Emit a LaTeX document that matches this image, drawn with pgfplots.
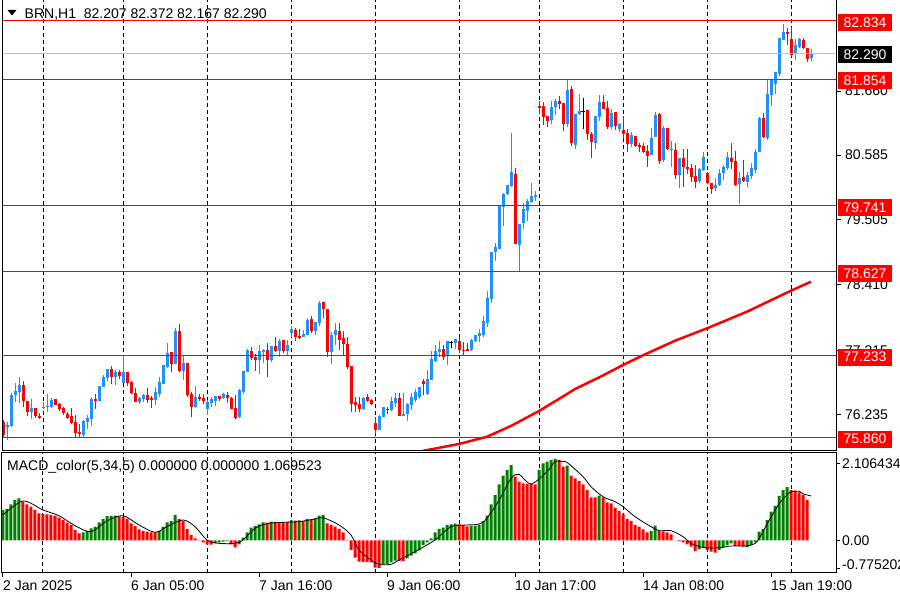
\documentclass[border=0pt]{standalone}
\usepackage{fontspec}
\setmainfont{Liberation Sans}
\usepackage{pgfplots}
\usepackage{pgfplotstable}
\pgfplotsset{compat=1.18}
\definecolor{cup}{RGB}{30,144,255}
\definecolor{cdn}{RGB}{255,0,0}
\definecolor{mgr}{RGB}{0,128,0}
\definecolor{lgray}{RGB}{192,192,192}
\newcommand\mtf{\fontsize{14pt}{16pt}\selectfont}

% rising candles: index, open, high, low, close
\pgfplotstableread{
i o h l c
1 76.028 76.117 75.815 76.061
2 76.044 76.593 76.033 76.564
3 76.564 76.766 76.447 76.631
4 76.614 76.866 76.430 76.732
7 76.279 76.497 76.162 76.346
10 76.346 76.447 76.330 76.368
11 76.363 76.581 76.279 76.385
12 76.368 76.514 76.346 76.480
20 75.894 76.145 75.860 76.128
21 76.117 76.229 75.995 76.178
22 76.162 76.536 76.050 76.497
24 76.469 76.715 76.463 76.715
25 76.704 76.900 76.692 76.866
26 76.849 77.000 76.804 77.000
28 76.860 76.983 76.732 76.955
30 76.770 77.235 76.770 76.950
34 76.442 76.536 76.413 76.519
35 76.497 76.581 76.442 76.564
38 76.480 76.704 76.396 76.619
39 76.581 76.861 76.530 76.782
40 76.749 77.067 76.749 77.067
41 77.039 77.441 77.012 77.273
43 77.084 77.687 77.084 77.637
45 76.972 77.235 76.816 77.101
48 76.368 76.715 76.341 76.530
51 76.330 76.480 76.229 76.452
52 76.435 76.536 76.358 76.497
53 76.469 76.547 76.385 76.547
55 76.519 76.603 76.497 76.581
59 76.200 76.670 76.173 76.648
60 76.619 76.967 76.581 76.967
61 76.955 77.340 76.945 77.319
64 77.151 77.403 76.916 77.302
65 77.290 77.340 77.106 77.324
67 77.151 77.386 77.123 77.386
69 77.307 77.508 77.206 77.474
71 77.302 77.486 77.235 77.403
72 77.599 77.721 77.537 77.671
75 77.542 77.654 77.531 77.587
76 77.575 77.850 77.575 77.821
78 77.637 77.788 77.575 77.788
79 77.776 78.140 77.721 78.107
82 77.285 77.626 77.084 77.570
83 77.565 77.766 77.408 77.654
90 76.330 76.536 76.313 76.519
94 75.978 76.223 75.978 76.212
95 76.200 76.363 76.190 76.363
97 76.313 76.526 76.301 76.463
98 76.435 76.592 76.368 76.519
100 76.212 76.603 76.212 76.246
101 76.246 76.435 76.133 76.413
102 76.396 76.603 76.313 76.536
103 76.480 76.659 76.452 76.619
104 76.536 76.704 76.492 76.698
106 76.581 76.983 76.564 76.832
107 76.816 77.307 76.816 77.168
108 77.140 77.403 77.123 77.302
109 77.290 77.470 77.206 77.340
111 77.235 77.470 77.067 77.470
113 77.441 77.498 77.331 77.498
117 77.319 77.498 77.307 77.486
118 77.475 77.570 77.458 77.570
119 77.559 77.666 77.458 77.609
120 77.570 77.888 77.542 77.810
121 77.776 78.308 77.709 78.190
122 78.168 78.967 78.101 78.967
123 78.967 79.107 78.816 79.050
124 79.007 79.733 79.007 79.733
125 79.721 79.945 79.397 79.934
126 79.929 80.085 79.912 80.085
127 80.068 80.961 80.057 80.308
129 79.079 79.431 78.648 79.431
130 79.453 79.788 79.352 79.677
131 79.654 79.845 79.486 79.816
132 79.805 80.113 79.778 79.900
133 79.889 79.984 79.821 79.917
137 81.174 81.493 81.107 81.397
138 81.397 81.521 81.258 81.493
141 81.102 81.862 81.062 81.677
143 80.755 81.275 80.688 81.275
144 81.270 81.610 81.258 81.325
148 80.794 81.241 80.683 81.241
149 81.230 81.593 81.163 81.476
152 81.062 81.354 81.018 81.297
154 81.018 81.119 80.979 81.102
157 80.772 80.979 80.727 80.923
162 80.588 81.045 80.588 80.873
163 80.894 81.313 80.884 81.258
165 80.504 81.079 80.476 81.045
167 80.680 80.822 80.392 80.685
169 80.252 80.542 80.029 80.542
174 80.157 80.375 80.113 80.353
175 80.336 80.643 80.320 80.549
178 80.029 80.197 79.984 80.085
179 80.085 80.353 80.073 80.291
180 80.281 80.420 80.168 80.392
181 80.365 80.633 80.336 80.559
184 80.096 80.297 79.766 80.207
186 80.140 80.297 80.056 80.252
187 80.241 80.459 80.185 80.375
188 80.336 80.688 80.281 80.643
189 80.643 81.230 80.633 81.213
191 80.868 81.845 80.839 81.610
192 81.593 81.845 81.414 81.845
193 81.778 81.984 81.605 81.984
194 81.940 82.554 81.917 82.554
195 82.515 82.784 82.515 82.655
198 82.276 82.532 82.180 82.432
199 82.403 82.544 82.386 82.532
202 82.207 82.372 82.167 82.290
}\upc

% falling candles
\pgfplotstableread{
i o h l c
0 76.111 76.145 75.860 75.894
5 76.732 76.799 76.363 76.463
6 76.463 76.463 76.212 76.279
8 76.346 76.346 76.178 76.212
9 76.212 76.262 76.162 76.178
13 76.497 76.497 76.396 76.396
14 76.413 76.436 76.301 76.330
15 76.346 76.368 76.234 76.262
16 76.246 76.285 76.157 76.178
17 76.212 76.346 76.078 76.100
18 76.111 76.229 75.860 75.933
19 75.950 76.078 75.860 75.911
23 76.502 76.581 76.330 76.469
27 77.000 77.050 76.749 76.871
29 76.950 76.983 76.832 76.888
31 76.950 76.950 76.715 76.770
32 76.782 76.804 76.586 76.603
33 76.603 76.687 76.442 76.452
36 76.564 76.687 76.435 76.480
37 76.519 76.547 76.351 76.480
42 77.285 77.285 76.955 77.084
44 77.637 77.759 76.955 76.972
46 77.101 77.101 76.536 76.564
47 76.581 76.619 76.195 76.368
49 76.530 76.581 76.469 76.497
50 76.514 76.581 76.413 76.469
54 76.547 76.547 76.463 76.492
56 76.564 76.614 76.425 76.508
57 76.519 76.536 76.324 76.324
58 76.351 76.564 76.162 76.184
62 77.302 77.369 77.151 77.180
63 77.206 77.252 76.967 77.151
66 77.319 77.441 76.866 77.151
68 77.386 77.537 77.285 77.307
70 77.486 77.486 77.263 77.302
73 77.654 77.682 77.474 77.542
74 77.553 77.666 77.498 77.515
77 77.838 77.888 77.599 77.637
80 78.123 78.123 77.855 78.001
81 78.006 78.006 77.206 77.290
84 77.637 77.776 77.319 77.486
85 77.520 77.632 77.218 77.414
86 77.419 77.542 77.005 77.029
87 77.050 77.050 76.279 76.419
88 76.447 76.526 76.279 76.396
89 76.413 76.526 76.279 76.330
91 76.530 76.581 76.452 76.469
92 76.480 76.502 76.396 76.413
93 76.094 76.200 75.911 75.978
96 76.335 76.368 76.246 76.308
99 76.519 76.603 76.212 76.212
105 76.804 76.832 76.564 76.749
110 77.340 77.403 77.151 77.206
114 77.470 77.542 77.263 77.319
115 77.319 77.458 77.235 77.297
116 77.340 77.441 77.307 77.307
128 80.269 80.365 79.096 79.096
134 81.414 81.498 81.270 81.381
135 81.409 81.481 81.091 81.220
136 81.241 81.241 81.052 81.162
139 81.493 81.577 81.354 81.437
140 81.454 81.454 80.995 81.107
142 81.694 81.744 80.744 80.784
146 81.342 81.342 80.839 80.935
147 80.940 80.973 80.533 80.811
150 81.476 81.593 81.354 81.364
151 81.370 81.498 81.018 81.062
153 81.308 81.308 81.007 81.074
155 81.007 81.241 80.856 80.940
156 80.951 81.024 80.643 80.772
158 80.911 80.911 80.727 80.738
159 80.755 80.794 80.643 80.717
160 80.743 80.789 80.616 80.643
161 80.655 80.755 80.392 80.576
164 81.275 81.297 80.437 80.492
166 81.035 81.035 80.671 80.688
168 80.671 80.794 80.180 80.252
170 80.532 80.688 80.056 80.392
171 80.392 80.688 80.264 80.353
172 80.365 80.437 80.140 80.224
173 80.236 80.420 80.040 80.140
176 80.281 80.298 80.096 80.113
177 80.113 80.113 79.929 80.018
182 80.542 80.794 80.353 80.475
183 80.492 80.655 80.073 80.085
185 80.224 80.504 80.140 80.157
190 81.213 81.297 80.878 80.894
196 82.655 82.712 82.432 82.611
197 82.532 82.738 82.236 82.264
200 82.515 82.554 82.365 82.376
201 82.376 82.376 82.152 82.197
}\dnc

% doji candles
\pgfplotstableread{
i o h l c
112 77.441 77.470 77.357 77.441
145 81.320 81.538 81.029 81.320
}\djc

% MACD histogram, rising bars
\pgfplotstableread{
i v
0 0.836
1 0.863
2 0.991
3 1.110
4 1.155
20 0.224
21 0.260
22 0.333
23 0.379
24 0.498
25 0.589
26 0.671
27 0.675
28 0.680
39 0.260
40 0.379
41 0.498
42 0.534
43 0.699
53 -0.078
54 -0.050
55 -0.032
56 -0.014
59 -0.105
60 0.078
61 0.224
62 0.352
63 0.397
64 0.443
65 0.498
67 0.516
72 0.553
74 0.553
76 0.589
78 0.607
79 0.680
80 0.699
95 -0.653
96 -0.650
97 -0.598
98 -0.553
101 -0.489
102 -0.416
103 -0.352
104 -0.269
105 -0.123
106 -0.050
107 0.059
108 0.224
109 0.315
110 0.352
111 0.425
112 0.443
113 0.461
117 0.406
118 0.410
119 0.425
120 0.534
121 0.680
122 0.991
123 1.247
124 1.539
125 1.776
126 1.932
127 2.068
134 1.932
135 2.114
136 2.160
137 2.205
138 2.233
141 2.050
149 1.228
162 0.260
163 0.406
174 -0.240
175 -0.190
179 -0.260
180 -0.190
181 -0.130
182 -0.077
186 -0.180
187 -0.120
188 -0.040
189 0.240
190 0.310
191 0.560
192 0.790
193 0.950
194 1.220
195 1.380
196 1.460
}\mgreen

% MACD histogram, falling bars
\pgfplotstableread{
i v
5 1.064
6 0.991
7 0.927
8 0.836
9 0.744
10 0.726
11 0.717
12 0.699
13 0.680
14 0.626
15 0.562
16 0.489
17 0.425
18 0.288
19 0.196
29 0.662
30 0.653
31 0.589
32 0.470
33 0.397
34 0.306
35 0.260
36 0.242
37 0.224
38 0.220
44 0.589
45 0.534
46 0.315
47 0.151
48 0.059
49 -0.005
50 -0.050
51 -0.105
52 -0.110
57 -0.105
58 -0.187
66 0.490
68 0.510
69 0.505
70 0.500
71 0.495
73 0.543
75 0.534
77 0.580
81 0.470
82 0.425
83 0.379
84 0.315
85 0.224
86 0.014
87 -0.260
88 -0.470
89 -0.580
90 -0.585
91 -0.590
92 -0.598
93 -0.744
94 -0.750
99 -0.560
100 -0.565
114 0.443
115 0.425
116 0.388
128 1.749
129 1.612
130 1.566
131 1.548
132 1.545
133 1.539
139 2.205
140 2.023
142 1.776
143 1.703
144 1.630
145 1.539
146 1.384
147 1.183
148 1.180
150 1.183
151 1.046
152 1.018
153 0.900
154 0.808
155 0.726
156 0.589
157 0.534
158 0.425
159 0.379
160 0.306
161 0.224
164 0.260
165 0.250
166 0.224
167 0.169
168 0.005
169 -0.014
170 -0.050
171 -0.105
172 -0.170
173 -0.288
176 -0.260
177 -0.306
178 -0.330
183 -0.150
184 -0.155
185 -0.170
197 1.380
198 1.365
199 1.320
200 1.250
201 1.110
}\mred

\pgfplotstableread{
i s
0 0.699
5 1.082
10 0.836
14 0.680
18 0.406
22 0.242
26 0.534
30 0.680
34 0.425
38 0.224
41 0.379
45 0.562
48 0.379
51 0.014
54 -0.078
58 -0.078
60 0.014
63 0.333
66 0.461
70 0.498
74 0.516
78 0.589
80 0.626
84 0.425
87 0.151
89 -0.260
92 -0.534
94 -0.653
97 -0.653
99 -0.534
103 -0.306
108 0.014
112 0.380
116 0.425
120 0.500
124 1.100
127 1.700
129 1.813
132 1.548
136 1.886
138 2.160
140 2.160
141 2.140
145 1.749
147 1.475
150 1.200
153 1.064
155 0.927
158 0.653
162 0.379
164 0.269
167 0.269
170 0.105
172 -0.077
175 -0.190
179 -0.200
182 -0.150
186 -0.150
188 -0.080
189 0.050
191 0.450
194 1.000
196 1.250
197 1.330
199 1.350
200 1.280
202 1.220
}\signal

\pgfplotstableread{
i m
100 75.559
107 75.654
114 75.743
121 75.865
127 76.045
134 76.296
141 76.580
143 76.665
149 76.858
155 77.067
160 77.230
168 77.474
176 77.682
186 77.961
197 78.313
202 78.464
}\mavg

\tikzset{
  rbox/.style={rectangle, fill=cdn, text=white, minimum width=54pt, minimum height=17pt, inner sep=0pt, font=\mtf},
  kbox/.style={rectangle, fill=black, text=white, minimum width=54pt, minimum height=17pt, inner sep=0pt, font=\mtf},
  gridl/.style={black, line width=1pt, dash pattern=on 4pt off 3pt},
}
\pgfplotsset{
  wick/.style={draw=none, mark=none, error bars/.cd, y dir=plus, y explicit, error mark=none,
    error bar style={draw=#1, line width=1pt, solid}},
  body/.style={draw=none, mark=none, error bars/.cd, y dir=plus, y explicit, error mark=none,
    error bar style={draw=#1, line width=3pt, solid}},
}

\begin{document}
\begin{tikzpicture}[x=1pt,y=1pt]
\fill[white] (0,0) rectangle (900,600);
% ---------------- main price panel
\begin{axis}[
  at={(2pt,149.5pt)}, anchor=south west, scale only axis,
  width=834pt, height=450.5pt,
  xmin=-0.25, xmax=208.25, ymin=75.634, ymax=83.186,
  axis line style={draw=none},
  xtick=\empty,
  ytick={76.235,77.315,78.410,79.505,80.585,81.660},
  yticklabels={76.235,77.315,78.410,79.505,80.585,81.660},
  ytick pos=right, yticklabel pos=right,
  tick align=outside, major tick length=5pt,
  tick style={black, line width=1pt},
  yticklabel style={font=\mtf, anchor=west, inner sep=0pt, xshift=4pt},
]
\pgfplotsinvokeforeach{10,30,51,72.1,93.1,114.1,134.1,155.1,176.1,197.1}{
  \draw[gridl] (axis cs:#1,75.634) -- (axis cs:#1,83.186);
}
\addplot[wick=cup] table[x=i, y=l, y error plus expr=\thisrow{h}-\thisrow{l}]{\upc};
\addplot[body=cup] table[x=i, y=o, y error plus expr=\thisrow{c}-\thisrow{o}]{\upc};
\addplot[wick=cdn] table[x=i, y=l, y error plus expr=\thisrow{h}-\thisrow{l}]{\dnc};
\addplot[body=cdn] table[x=i, y=c, y error plus expr=\thisrow{o}-\thisrow{c}]{\dnc};
\addplot[wick=black] table[x=i, y=l, y error plus expr=\thisrow{h}-\thisrow{l}]{\djc};
\addplot[only marks, mark=-, mark size=1.8pt, mark options={black, line width=1pt}] table[x=i, y=c]{\djc};
% moving average
\addplot[cdn, line width=2.5pt] table[x=i, y=m]{\mavg};
% horizontal levels
\addplot[lgray, line width=1pt] coordinates {(-0.25,82.290) (208.25,82.290)};
\addplot[cdn, line width=1pt] coordinates {(-0.25,82.834) (208.25,82.834)};
\addplot[cdn, line width=1pt] coordinates {(-0.25,81.854) (208.25,81.854)};
\addplot[cdn, line width=1pt] coordinates {(-0.25,79.741) (208.25,79.741)};
\addplot[cdn, line width=1pt] coordinates {(-0.25,78.627) (208.25,78.627)};
\addplot[cdn, line width=1pt] coordinates {(-0.25,77.233) (208.25,77.233)};
\addplot[cdn, line width=1pt] coordinates {(-0.25,75.860) (208.25,75.860)};
\coordinate (b1) at (axis cs:208.25,82.834);
\coordinate (b2) at (axis cs:208.25,82.290);
\coordinate (b3) at (axis cs:208.25,81.854);
\coordinate (b4) at (axis cs:208.25,79.741);
\coordinate (b5) at (axis cs:208.25,78.627);
\coordinate (b6) at (axis cs:208.25,77.233);
\coordinate (b7) at (axis cs:208.25,75.860);
\end{axis}
% frame of the price panel
\draw[black, line width=1pt] (2.5,149.5) -- (2.5,600);
\draw[black, line width=1pt] (836,149.5) -- (836,600);
\draw[black, line width=1pt] (2,149.5) -- (836.5,149.5);
% price boxes
\node[rbox] at ([xshift=29pt,yshift=-2pt]b1) {82.834};
\node[kbox] at ([xshift=29pt,yshift=-1pt]b2) {82.290};
\node[rbox] at ([xshift=29pt,yshift=-1.5pt]b3) {81.854};
\node[rbox] at ([xshift=29pt,yshift=-2pt]b4) {79.741};
\node[rbox] at ([xshift=29pt,yshift=-2pt]b5) {78.627};
\node[rbox] at ([xshift=29pt,yshift=-2pt]b6) {77.233};
\node[rbox] at ([xshift=29pt,yshift=-2pt]b7) {75.860};
% title
\fill[black] (7.5,590) -- (16.5,590) -- (12,584.5) -- cycle;
\node[anchor=base west, inner sep=0pt, font=\mtf] at (24.5,581.7) {BRN,H1\ \ 82.207 82.372 82.167 82.290};
% ---------------- MACD panel
\begin{axis}[
  at={(2pt,27.5pt)}, anchor=south west, scale only axis,
  width=834pt, height=120pt,
  xmin=-0.25, xmax=208.25, ymin=-0.877, ymax=2.411,
  axis line style={black, line width=1pt},
  xtick={0,32,64,96,128,160,192},
  xticklabels={2 Jan 2025,6 Jan 05:00,7 Jan 16:00,9 Jan 06:00,10 Jan 17:00,14 Jan 08:00,15 Jan 19:00},
  xtick pos=left,
  xticklabel style={font=\mtf, anchor=north west, inner sep=0pt, text height=10pt, text depth=3pt, yshift=-3.5pt},
  ytick={0,2.106434}, yticklabels={0.00,2.106434},
  extra y ticks={-0.775202}, extra y tick labels={-0.775202},
  extra y tick style={yticklabel style={yshift=4.5pt}},
  ytick pos=right, yticklabel pos=right,
  tick align=outside, major tick length=4pt,
  tick style={black, line width=1pt},
  yticklabel style={font=\mtf, anchor=west, inner sep=0pt, xshift=2pt},
]
\pgfplotsinvokeforeach{10,30,51,72.1,93.1,114.1,134.1,155.1,176.1,197.1}{
  \draw[gridl] (axis cs:#1,-0.877) -- (axis cs:#1,2.411);
}
\addplot[ybar, bar width=3pt, bar shift=0pt, fill=mgr, draw=none] table[x=i, y=v]{\mgreen};
\addplot[ybar, bar width=3pt, bar shift=0pt, fill=cdn, draw=none] table[x=i, y=v]{\mred};
\addplot[black, line width=0.8pt, smooth] table[x=i, y=s]{\signal};
\end{axis}
\node[anchor=base west, inner sep=0pt, font=\mtf] at (7,129) {MACD\_color(5,34,5) 0.000000 0.000000 1.069523};
\pgfresetboundingbox
\useasboundingbox (0,0) rectangle (900,600);
\end{tikzpicture}
\end{document}
